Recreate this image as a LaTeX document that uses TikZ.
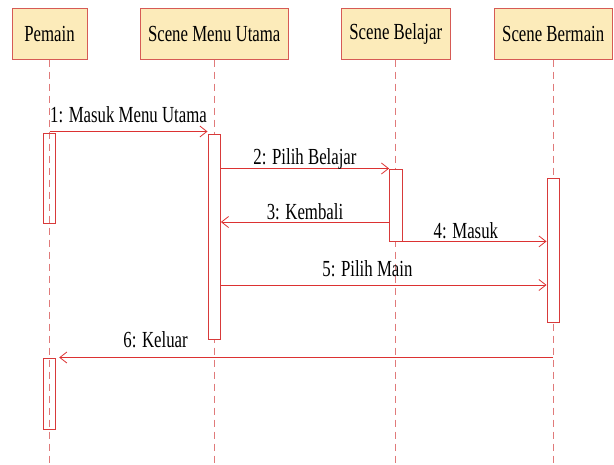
\documentclass[tikz,border=0pt]{standalone}
\usepackage{fontspec}
\setmainfont{Liberation Serif}[FakeStretch=0.73]
\usepackage{tikz}
\usetikzlibrary{positioning,arrows.meta}
\definecolor{headfill}{HTML}{FCEBBA}
\definecolor{headline}{HTML}{D65A55}
\definecolor{lifered}{HTML}{E07A7A}
\definecolor{msgred}{HTML}{DC3232}
\definecolor{actred}{HTML}{D83A3A}
\tikzset{
  every node/.style={font=\fontsize{23pt}{27pt}\selectfont},
  head/.style={draw=headline, fill=headfill, line width=1pt, minimum height=51pt, inner xsep=8pt},
  lifeline/.style={draw=lifered, line width=0.8pt, dash pattern=on 7pt off 5pt},
  act/.style={draw=actred, fill=white, line width=0.9pt, minimum width=12.5pt, inner sep=0pt},
  actline/.style={act, fill=none},
  msg/.style={draw=msgred, line width=0.8pt, -{Straight Barb[length=7pt,width=11pt]}},
  lbl/.style={anchor=base, inner sep=0pt, text=black}
}
\begin{document}
\begin{tikzpicture}[x=1pt, y=-1pt, node distance=52pt]
\useasboundingbox (0,0) rectangle (614,464);
\node[head, minimum width=75pt]  (pemain)  at (49.5,33.5) {Pemain};
\node[head, right=of pemain]     (menu)    {Scene Menu Utama};
\node[head, right=of menu]       (belajar) {Scene Belajar};
\node[head, right=43pt of belajar] (bermain) {Scene Bermain};
\coordinate (bottom) at (0,464);
\coordinate (y3)     at (0,222);
\coordinate (y5)     at (0,285);

\foreach \h in {pemain,menu,belajar,bermain}
  \draw[lifeline] (\h.south) -- (\h.south |- bottom);

\node[actline, minimum height=90pt,  below=73pt of pemain]  (p1) {};
\node[actline, minimum height=71pt,  below=298pt of pemain] (p2) {};
\node[act,     minimum height=205pt, below=74pt of menu]    (m1) {};
\node[act,     minimum height=72pt,  below=109pt of belajar] (b1) {};
\node[act,     minimum height=144pt, below=118pt of bermain] (r1) {};

\draw[msg] ([yshift=1pt]p1.north) -- node[lbl, yshift=9pt] {1: Masuk Menu Utama} ([yshift=1pt]p1.north -| m1.west);
\draw[msg] (m1.east |- b1.north) -- node[lbl, yshift=4.5pt] {2: Pilih Belajar} (b1.north west);
\draw[msg] (b1.west |- y3) -- node[lbl, yshift=3pt] {3: Kembali} (m1.east |- y3);
\draw[msg] (b1.south east) -- node[lbl, pos=0.44, yshift=3pt] {4: Masuk} (b1.south east -| r1.west);
\draw[msg] (m1.east |- y5) -- node[lbl, pos=0.45, yshift=9pt] {5: Pilih Main} (r1.west |- y5);
\draw[msg, shorten >=3pt] (bermain.south |- p2.north) -- node[lbl, pos=0.8, yshift=10pt] {6: Keluar} (p2.north east);
\end{tikzpicture}
\end{document}
